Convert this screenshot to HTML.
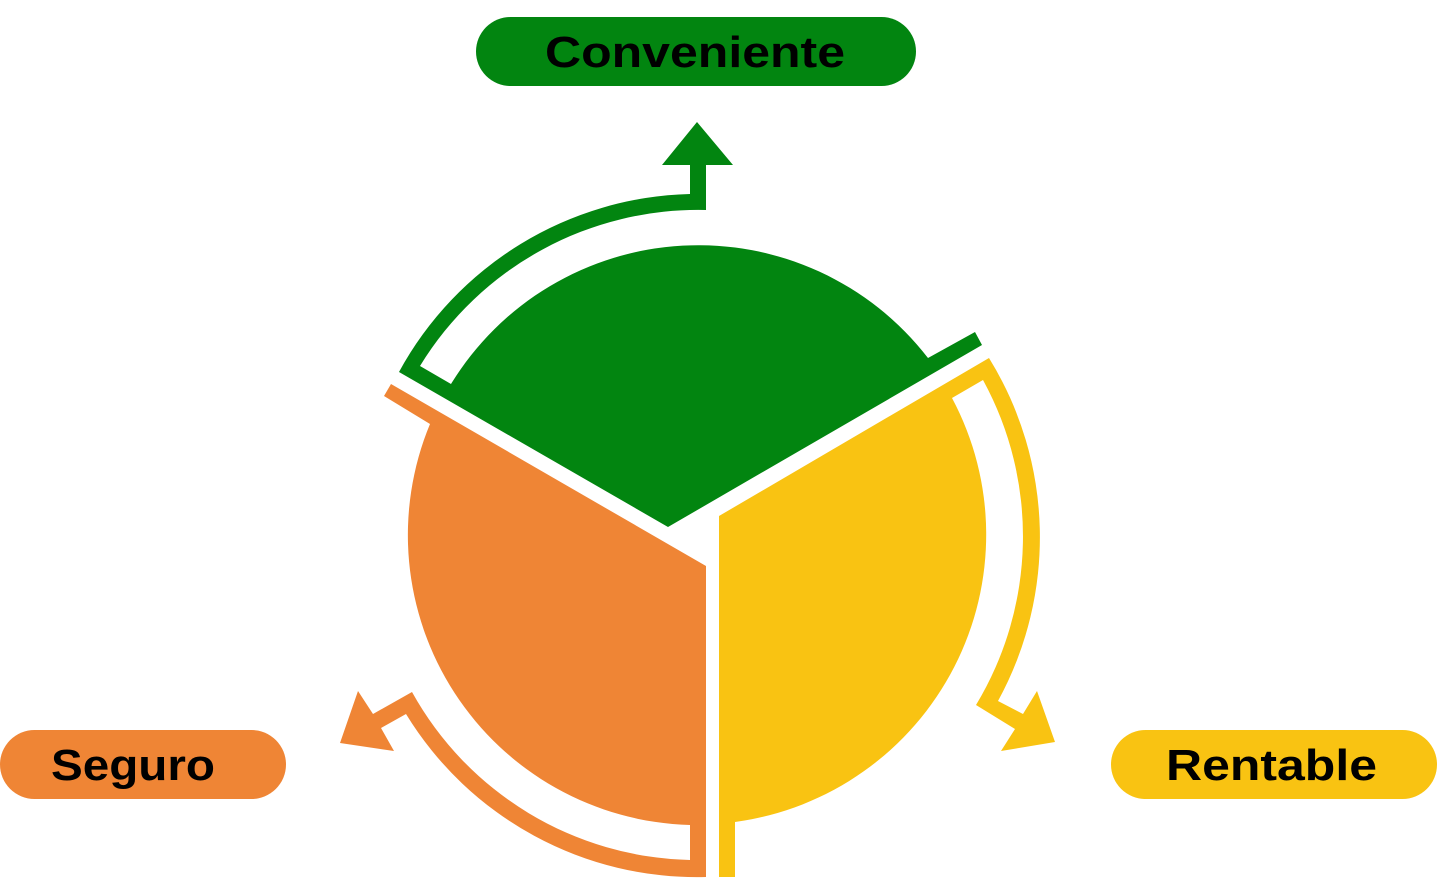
<!DOCTYPE html>
<html><head><meta charset="utf-8"><style>
html,body{margin:0;padding:0;background:#fff;}
svg{display:block;}
text{font-family:"Liberation Sans",sans-serif;font-weight:bold;fill:#000;}
</style></head><body>
<svg width="1437" height="878" viewBox="0 0 1437 878" xmlns="http://www.w3.org/2000/svg">
<!-- green -->
<path fill="#028510" d="M668,527 L399,372 A341,341 0 0 1 690,194 L690,165 L662,165 L697,122 L733,165 L706,165 L706,210 A326,326 0 0 0 420,366 L451,384 A290,290 0 0 1 928,358 L975,332 L982,345 Z"/>
<!-- orange -->
<path fill="#EF8535" d="M706,566 L706,877 A341,341 0 0 1 406,714 L381,728 L394,751 L340,743 L358,691 L373,714 L412,692 A326,326 0 0 0 690,860 L690,825 A290,290 0 0 1 430,424 L384,396 L391,384 Z"/>
<!-- yellow -->
<path fill="#F9C312" d="M719,516 L989,358 A341,341 0 0 1 998,701 L1023,714 L1037,691 L1055,742 L1001,751 L1015,729 L976,705 A326,326 0 0 0 983,380 L952,398 A290,290 0 0 1 735,822 L735,877 L719,877 Z"/>
<!-- pills -->
<rect x="476" y="17" width="440" height="69" rx="34.5" fill="#028510"/>
<text x="545" y="67" font-size="44" textLength="300" lengthAdjust="spacingAndGlyphs">Conveniente</text>
<rect x="0" y="730" width="286" height="69" rx="34.5" fill="#EF8535"/>
<text x="51" y="780" font-size="44" textLength="164" lengthAdjust="spacingAndGlyphs">Seguro</text>
<rect x="1111" y="730" width="326" height="69" rx="34.5" fill="#F9C312"/>
<text x="1166" y="780" font-size="44" textLength="211" lengthAdjust="spacingAndGlyphs">Rentable</text>
</svg>
</body></html>
